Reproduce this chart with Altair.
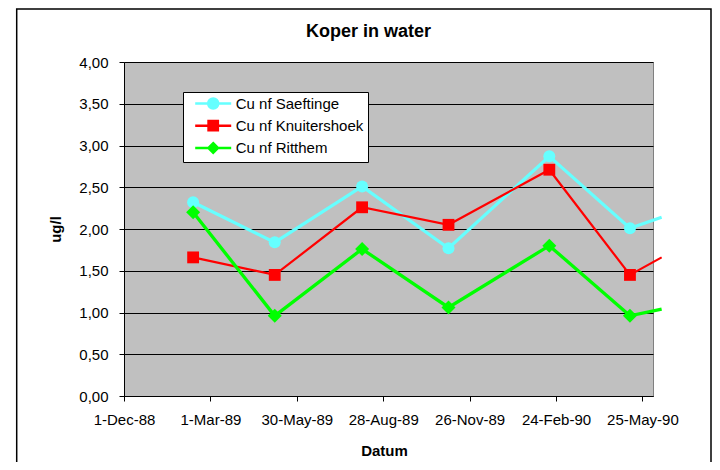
import altair as alt
import pandas as pd

# ---- data ----
dates = ["1989-02-11", "1989-05-07", "1989-08-06", "1989-11-04", "1990-02-17", "1990-05-12", "1990-06-14"]
saeftinge = [2.32, 1.84, 2.51, 1.77, 2.87, 2.01, 2.14]
knuitershoek = [1.66, 1.45, 2.26, 2.05, 2.71, 1.45, 1.66]
ritthem = [2.20, 0.96, 1.76, 1.06, 1.80, 0.96, 1.04]

series_names = ["Cu nf Saeftinge", "Cu nf Knuitershoek", "Cu nf Ritthem"]
series_colors = ["#66FFFF", "#FF0000", "#00FF00"]
series_shapes = ["circle", "square", "diamond"]
series_widths = [3.2, 2.2, 3.3]
series_sizes = [144, 140, 196]
legend_paths = [
    "M-3.6,0L3.6,0M1,0A1,1 0 1,1 -1,0A1,1 0 1,1 1,0Z",
    "M-3.6,0L3.6,0M-0.93,-0.93L0.93,-0.93L0.93,0.93L-0.93,0.93Z",
    "M-3.6,0L3.6,0M0,-0.95L0.95,0L0,0.95L-0.95,0Z",
]

tick_dates = ["1988-12-01", "1989-03-01", "1989-05-30", "1989-08-28", "1989-11-26", "1990-02-24", "1990-05-25"]
x_domain = ["1988-12-01", "1990-06-05"]
y_ticks = [0, 0.5, 1.0, 1.5, 2.0, 2.5, 3.0, 3.5, 4.0]

FONT = "Liberation Sans"


def ms(d):
    return int(pd.Timestamp(d, tz="UTC").value // 10**6)


values_by_series = [saeftinge, knuitershoek, ritthem]
rows = []
for name, vals in zip(series_names, values_by_series):
    for d, v in zip(dates, vals):
        rows.append({"series": name, "date": ms(d), "value": v})
df = pd.DataFrame(rows)
end_ms = ms(x_domain[1])

X = alt.X(
    "date:T",
    scale=alt.Scale(type="utc", domain=[ms(x_domain[0]), end_ms]),
    axis=alt.Axis(
        values=[ms(d) for d in tick_dates],
        labelExpr="utcFormat(datum.value, '%-d-%b-%y')",
        grid=False,
        tickSize=5,
        labelPadding=11,
        labelFlush=False,
        labelOverlap=False,
        title="Datum",
        titleX=260,
        titleY=54.5,
        titleBaseline="middle",
        titleAlign="center",
    ),
)
Y = alt.Y(
    "value:Q",
    scale=alt.Scale(domain=[0, 4], nice=False, zero=True),
    axis=alt.Axis(
        values=y_ticks,
        labelExpr="replace(format(datum.value, '.2f'), '.', ',')",
        grid=True,
        gridColor="black",
        gridWidth=1,
        gridOpacity=1,
        tickSize=5,
        labelPadding=11,
        title="ug/l",
        titleX=-69,
        titleY=167,
        titleAngle=270,
        titleAlign="center",
        titleBaseline="middle",
    ),
)

layers = []

# outer chart frame
frame = alt.Chart(alt.Data(values=[{}])).mark_rect(
    fillOpacity=0, stroke="black", strokeWidth=1.5, clip=False
).encode(
    x=alt.value(-107.3), x2=alt.value(587), y=alt.value(-53), y2=alt.value(420)
)
layers.append(frame)

for name, col, shp, w, sz in zip(series_names, series_colors, series_shapes, series_widths, series_sizes):
    sdf = df[df["series"] == name]
    line = alt.Chart(sdf).mark_line(color=col, strokeWidth=w, clip=False).encode(x=X, y=Y)
    pts = alt.Chart(sdf[sdf["date"] <= end_ms]).mark_point(
        filled=True, shape=shp, size=sz, color=col, opacity=1, clip=False
    ).encode(x=X, y=Y)
    layers += [line, pts]

legend = alt.Legend(
    title=None,
    orient="none",
    legendX=59,
    legendY=30,
    fillColor="white",
    strokeColor="black",
    padding=4,
    cornerRadius=0,
    symbolOffset=18.7,
    labelOffset=15,
    rowPadding=1.2,
    labelFont=FONT,
    labelFontSize=15,
    labelColor="black",
    labelLimit=400,
    symbolSize=100,
    symbolStrokeWidth=2.5,
    symbolOpacity=1,
)
leg_layer = alt.Chart(df).transform_filter("false").mark_point(
    filled=True, size=100, opacity=1
).encode(
    x=X,
    y=Y,
    fill=alt.Fill("series:N", scale=alt.Scale(domain=series_names, range=series_colors), legend=legend),
    stroke=alt.Stroke("series:N", scale=alt.Scale(domain=series_names, range=series_colors), legend=legend),
    shape=alt.Shape("series:N", scale=alt.Scale(domain=series_names, range=legend_paths), legend=legend),
)
layers.append(leg_layer)

chart = alt.layer(*layers).properties(
    width=529,
    height=334,
    autosize=alt.AutoSizeParams(type="none"),
    padding={"left": 116, "top": 54, "right": 59, "bottom": 66},
    background="white",
    title=alt.TitleParams(
        "Koper in water",
        font=FONT,
        fontSize=18,
        fontWeight="bold",
        color="black",
        anchor="middle",
        baseline="middle",
        dx=-20,
        dy=42,
        offset=0,
    ),
).configure_view(
    fill="#C0C0C0", stroke="#808080", strokeWidth=1
).configure_axis(
    labelFont=FONT,
    labelFontSize=15,
    labelColor="black",
    titleFont=FONT,
    titleFontSize=15,
    titleFontWeight="bold",
    titleColor="black",
    domainColor="black",
    domainWidth=1,
    tickColor="black",
    tickWidth=1,
)

chart.save("out.html", embed_options={"renderer": "svg", "actions": False})
